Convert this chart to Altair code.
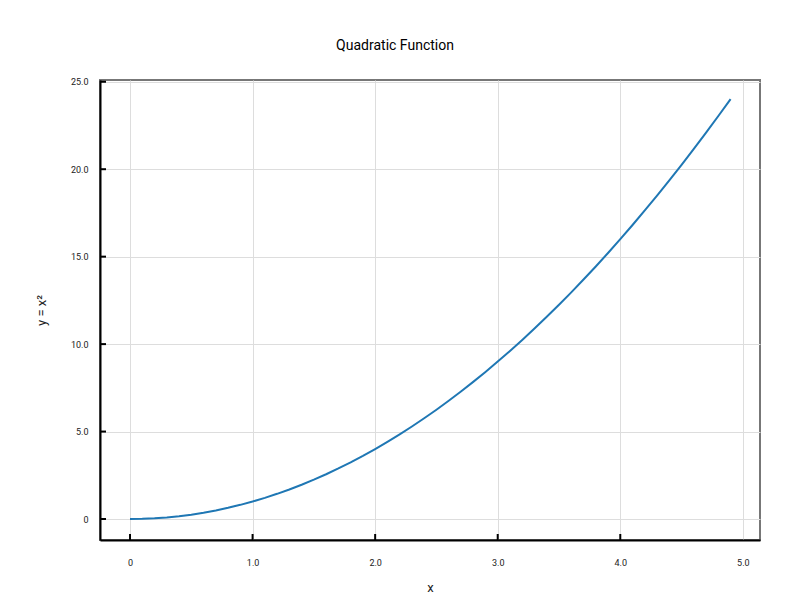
import altair as alt
import pandas as pd

xs = [0.0, 0.1, 0.2, 0.3, 0.4, 0.5, 0.6, 0.7, 0.8, 0.9,
      1.0, 1.1, 1.2, 1.3, 1.4, 1.5, 1.6, 1.7, 1.8, 1.9,
      2.0, 2.1, 2.2, 2.3, 2.4, 2.5, 2.6, 2.7, 2.8, 2.9,
      3.0, 3.1, 3.2, 3.3, 3.4, 3.5, 3.6, 3.7, 3.8, 3.9,
      4.0, 4.1, 4.2, 4.3, 4.4, 4.5, 4.6, 4.7, 4.8, 4.9]
ys = [0.0, 0.01, 0.04, 0.09, 0.16, 0.25, 0.36, 0.49, 0.64, 0.81,
      1.0, 1.21, 1.44, 1.69, 1.96, 2.25, 2.56, 2.89, 3.24, 3.61,
      4.0, 4.41, 4.84, 5.29, 5.76, 6.25, 6.76, 7.29, 7.84, 8.41,
      9.0, 9.61, 10.24, 10.89, 11.56, 12.25, 12.96, 13.69, 14.44, 15.21,
      16.0, 16.81, 17.64, 18.49, 19.36, 20.25, 21.16, 22.09, 23.04, 24.01]
x_ticks = [0, 1, 2, 3, 4, 5]
y_ticks = [0, 5, 10, 15, 20, 25]

W, H = 660, 460
df = pd.DataFrame({"x": xs, "y": ys})
xs_scale = alt.Scale(domain=[-0.245, 5.14], nice=False, zero=False)
ys_scale = alt.Scale(domain=[-1.2, 25.1], nice=False, zero=False)
lbl = "datum.value == 0 ? '0' : format(datum.value, '.1f')"

line = alt.Chart(df).mark_line(color="#1f77b4", strokeWidth=2).encode(
    x=alt.X("x:Q", scale=xs_scale, title="x",
            axis=alt.Axis(values=x_ticks, labelExpr=lbl, tickSize=0, labelPadding=18,
                          titlePadding=14, domainColor="black", domainWidth=2)),
    y=alt.Y("y:Q", scale=ys_scale, title="y = x²",
            axis=alt.Axis(values=y_ticks, labelExpr=lbl, tickSize=0, labelPadding=12,
                          titlePadding=22, domainColor="black", domainWidth=2)),
)

xt = alt.Chart(pd.DataFrame({"t": x_ticks[:-1]})).mark_rule(color="black", strokeWidth=2).encode(
    x=alt.X("t:Q", scale=xs_scale), y=alt.value(H), y2=alt.value(H - 6))
yt = alt.Chart(pd.DataFrame({"t": y_ticks})).mark_rule(color="black", strokeWidth=2).encode(
    y=alt.Y("t:Q", scale=ys_scale), x=alt.value(0), x2=alt.value(6))

chart = alt.layer(line, xt, yt).properties(
    width=W, height=H,
    title=alt.Title("Quadratic Function", fontSize=14, fontWeight="normal", offset=25, dx=-35),
    autosize=alt.AutoSizeParams(type="none"),
    padding={"left": 92, "top": 72, "right": 32, "bottom": 70},
).configure(font="Roboto").configure_view(
    stroke="#777777", strokeWidth=2
).configure_axis(
    labelFontSize=9, labelColor="#222222", titleFontSize=13, titleFontWeight="normal",
    gridColor="#dddddd", titleColor="#222222"
)

chart.save("out.html", embed_options={"renderer": "svg", "actions": False})
